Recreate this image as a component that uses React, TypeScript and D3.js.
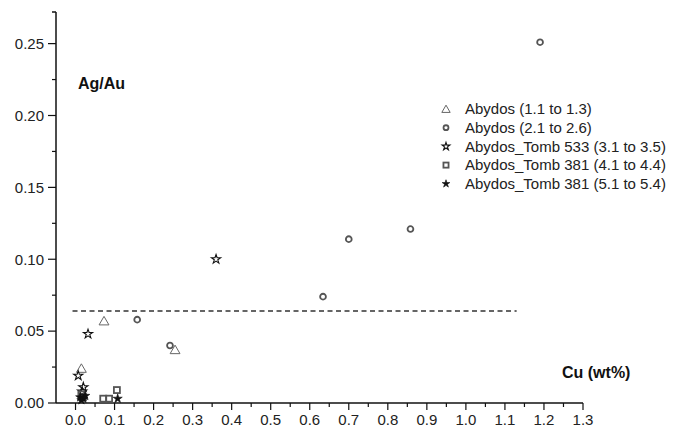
import * as d3 from "d3";

// Cu (wt%) vs Ag/Au, one list per sample group
const triangles: [number, number][] = [[0.015, 0.024], [0.073, 0.057], [0.255, 0.037]];
const circles: [number, number][] = [[0.158, 0.058], [0.242, 0.04], [0.634, 0.074], [0.7, 0.114], [0.858, 0.121], [1.19, 0.251]];
const openStars: [number, number][] = [[0.007, 0.019], [0.02, 0.011], [0.032, 0.048], [0.36, 0.1], [0.017, 0.008]];
const squares: [number, number][] = [[0.015, 0.006], [0.019, 0.004], [0.071, 0.003], [0.086, 0.003], [0.106, 0.009]];
const filledStars: [number, number][] = [[0.012, 0.004], [0.02, 0.003], [0.025, 0.005], [0.015, 0.002], [0.108, 0.003]];
const legendLabels = [
  "Abydos (1.1 to 1.3)",
  "Abydos (2.1 to 2.6)",
  "Abydos_Tomb 533 (3.1 to 3.5)",
  "Abydos_Tomb 381 (4.1 to 4.4)",
  "Abydos_Tomb 381 (5.1 to 5.4)",
];
const xTicks = d3.range(0, 1.301, 0.1);
const yTicks = [0, 0.05, 0.1, 0.15, 0.2, 0.25];
const threshold = 0.064;
const thresholdEnd = 1.13;

const W = 677;
const H = 427;
const font = "'Liberation Sans', Arial, sans-serif";

const x = d3.scaleLinear().domain([-0.05, 1.3]).range([56, 583]);
const y = d3.scaleLinear().domain([0, 0.272]).range([403, 12]);

function Marker({ kind, s = 1 }: { kind: number; s?: number }) {
  if (kind === 0)
    return <path d={d3.symbol(d3.symbolTriangle, 42 * s * s)()!} transform="translate(0,1)" fill="none" stroke="#666" strokeWidth={1} />;
  if (kind === 1) return <circle r={2.9 * s} fill="none" stroke="#555" strokeWidth={1.8} />;
  if (kind === 2)
    return <path d={d3.symbol(d3.symbolStar, 26 * s * s)()!} fill="none" stroke="#111" strokeWidth={1.1} />;
  if (kind === 3)
    return <rect x={-3 * s} y={-3 * s} width={6 * s} height={6 * s} fill="none" stroke="#555" strokeWidth={1.8} />;
  return <path d={d3.symbol(d3.symbolStar, 26 * s * s)()!} fill="#111" stroke="#111" strokeWidth={0.6} />;
}

export default function App() {
  const groups = [triangles, circles, openStars, squares, filledStars];
  const xMinor = d3.range(0.05, 1.3, 0.1);
  const yMinor = d3.range(0.025, 0.27, 0.05);
  return (
    <svg width={W} height={H} style={{ position: "absolute", left: 0, top: 0, fontFamily: font }}>
      <rect width={W} height={H} fill="#fff" />
      {/* threshold line */}
      <line x1={x(0) - 3} x2={x(thresholdEnd)} y1={y(threshold)} y2={y(threshold)}
        stroke="#333" strokeWidth={1.3} strokeDasharray="5,3.5" />
      {/* axes */}
      <line x1={x(-0.05)} x2={x(-0.05)} y1={y(0.272)} y2={y(0)} stroke="#111" strokeWidth={1.5} />
      <line x1={x(-0.05)} x2={x(1.3)} y1={y(0)} y2={y(0)} stroke="#111" strokeWidth={1.5} />
      <line x1={x(-0.05) - 4} x2={x(-0.05)} y1={y(0.272)} y2={y(0.272)} stroke="#111" strokeWidth={1.5} />
      {yTicks.map((t) => (
        <g key={"y" + t}>
          <line x1={x(-0.05) - 8} x2={x(-0.05)} y1={y(t)} y2={y(t)} stroke="#111" strokeWidth={1.2} />
          <text x={x(-0.05) - 12} y={y(t)} dy="0.35em" textAnchor="end" fontSize={15} fill="#222">
            {d3.format(".2f")(t)}
          </text>
        </g>
      ))}
      {yMinor.map((t) => (
        <line key={"ym" + t} x1={x(-0.05) - 4} x2={x(-0.05)} y1={y(t)} y2={y(t)} stroke="#111" strokeWidth={1.2} />
      ))}
      {xTicks.map((t) => (
        <g key={"x" + t}>
          <line x1={x(t)} x2={x(t)} y1={y(0)} y2={y(0) + 7} stroke="#111" strokeWidth={1.2} />
          <text x={x(t)} y={y(0) + 22} textAnchor="middle" fontSize={15} fill="#222">
            {d3.format(".1f")(t)}
          </text>
        </g>
      ))}
      {xMinor.map((t) => (
        <line key={"xm" + t} x1={x(t)} x2={x(t)} y1={y(0)} y2={y(0) + 4} stroke="#111" strokeWidth={1.2} />
      ))}
      {/* points */}
      {groups.map((pts, gi) => (
        <g key={"g" + gi}>
          {pts.map((p, i) => (
            <g key={i} transform={`translate(${x(p[0])},${y(p[1])})`}>
              <Marker kind={gi} />
            </g>
          ))}
        </g>
      ))}
      {/* axis titles */}
      <text x={78} y={89} fontSize={16} fontWeight="bold" fill="#111">Ag/Au</text>
      <text x={562} y={378} fontSize={16} fontWeight="bold" fill="#111">Cu (wt%)</text>
      {/* legend */}
      {legendLabels.map((label, i) => (
        <g key={label} transform={`translate(0,${109 + i * 18.7})`}>
          <g transform="translate(446,0)">
            <Marker kind={i} s={0.85} />
          </g>
          <text x={465} y={0} dy="0.35em" fontSize={15} fill="#222">{label}</text>
        </g>
      ))}
    </svg>
  );
}
